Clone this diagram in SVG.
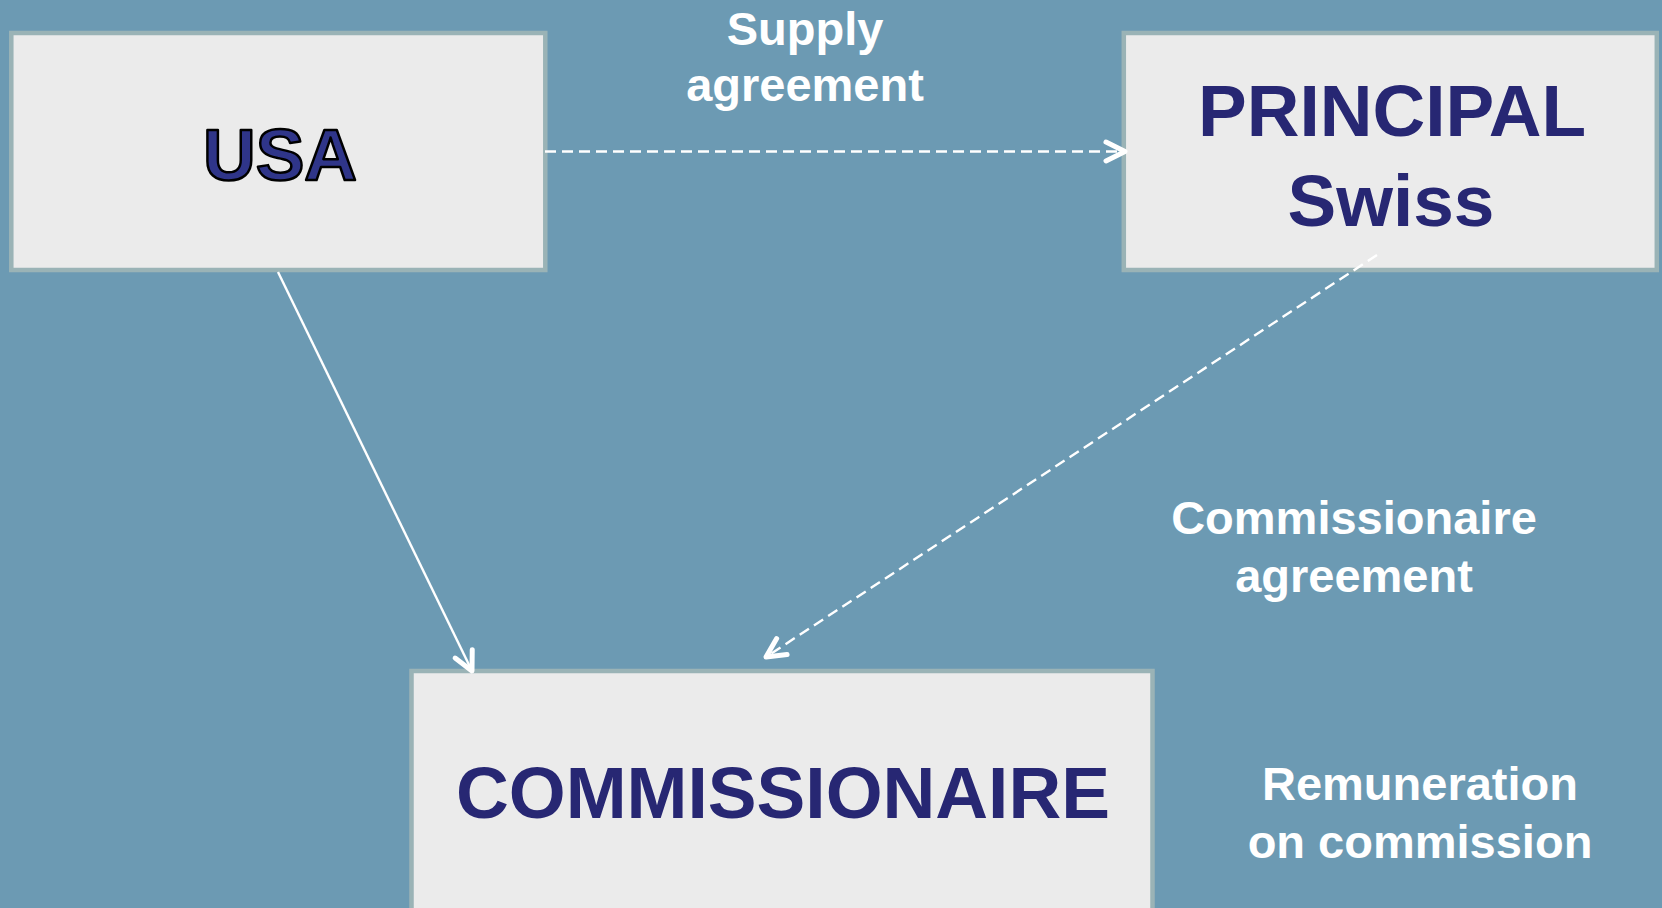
<svg xmlns="http://www.w3.org/2000/svg" width="1662" height="908" viewBox="0 0 1662 908">
  <style>
    .box { fill: #ebebeb; stroke: #9ab3b6; stroke-width: 4.5; }
    .name { font-family: "Liberation Sans", Arial, sans-serif; font-weight: bold; font-size: 73px; fill: #272773; text-anchor: middle; }
    .usa { fill: #2f3589; stroke: #000; stroke-width: 2.5; stroke-linejoin: round; }
    .label { font-family: "Liberation Sans", Arial, sans-serif; font-weight: bold; font-size: 47px; fill: #ffffff; text-anchor: middle; }
    .link { fill: none; stroke: #ffffff; stroke-width: 2.4; }
    .dashed { stroke-dasharray: 11 6; }
  </style>
  <defs>
    <marker id="chevron" markerUnits="userSpaceOnUse" markerWidth="34" markerHeight="34" viewBox="-26 -17 34 34" refX="0" refY="0" orient="auto" overflow="visible">
      <path d="M -19 -9.5 L 0 0 L -19 9.5" fill="none" stroke="#ffffff" stroke-width="5" stroke-linecap="round" stroke-linejoin="round"/>
    </marker>
  </defs>

  <rect x="0" y="0" width="1662" height="908" fill="#6c9ab3"/>

  <g id="usa">
    <rect class="box" x="11.3" y="33" width="534" height="237"/>
    <text class="name usa" x="280" y="180" font-size="71">USA</text>
  </g>

  <g id="principal">
    <rect class="box" x="1123.8" y="33" width="533" height="237"/>
    <text class="name" x="1392" y="136" font-size="74">PRINCIPAL</text>
    <text class="name" x="1391" y="226">Swiss</text>
  </g>

  <g id="commissionaire">
    <rect class="box" x="411.5" y="671" width="741" height="240"/>
    <text class="name" x="783" y="818" textLength="654" lengthAdjust="spacingAndGlyphs">COMMISSIONAIRE</text>
  </g>

  <g id="labels">
    <text class="label" x="805" y="45">Supply</text>
    <text class="label" x="805" y="101">agreement</text>
    <text class="label" x="1354" y="534">Commissionaire</text>
    <text class="label" x="1354" y="592">agreement</text>
    <text class="label" x="1420" y="800">Remuneration</text>
    <text class="label" x="1420" y="858">on commission</text>
  </g>

  <g id="connectors">
    <line class="link dashed" x1="545" y1="151.5" x2="1125" y2="151.5" marker-end="url(#chevron)"/>
    <line class="link" x1="278" y1="272" x2="472" y2="671" marker-end="url(#chevron)"/>
    <line class="link dashed" x1="1377" y1="255" x2="766" y2="657" marker-end="url(#chevron)"/>
  </g>
</svg>
